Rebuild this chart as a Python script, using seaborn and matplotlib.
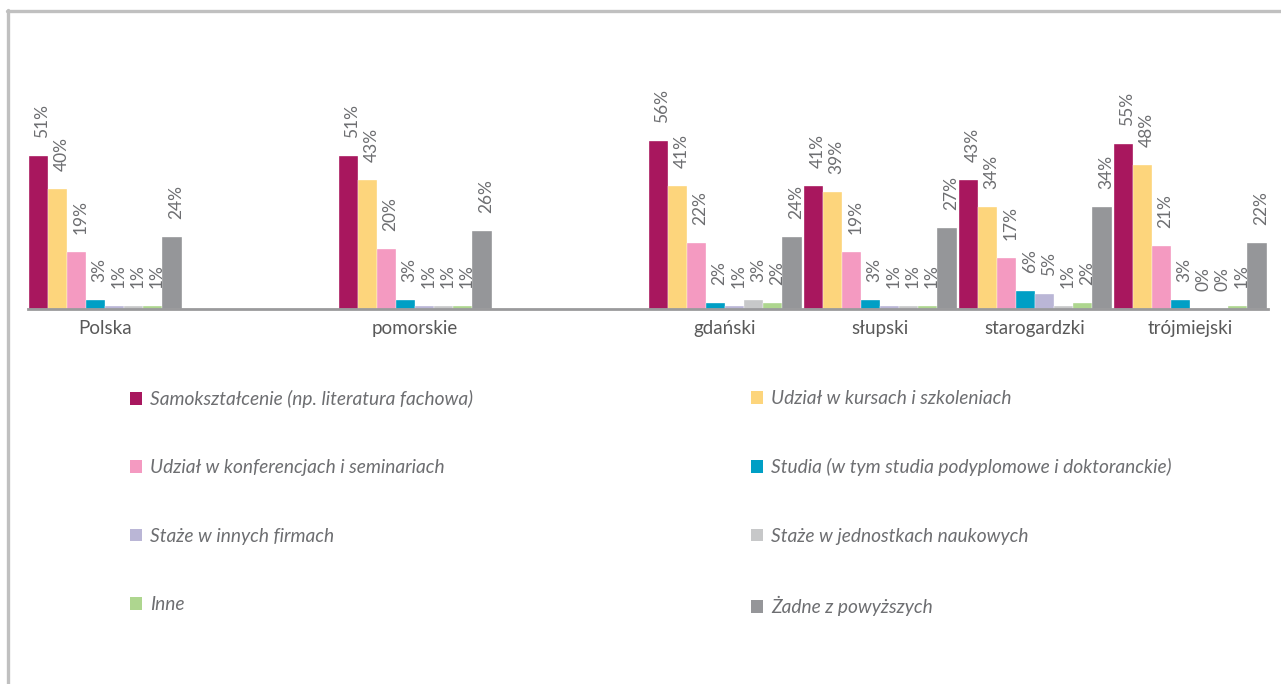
"""Bar chart: forms of professional development by region (percent of answers)."""

import matplotlib

matplotlib.use("Agg")
import matplotlib.pyplot as plt
import pandas as pd
import seaborn as sns
from matplotlib.lines import Line2D
from matplotlib.patches import Patch

# categories on the x axis; the empty slots keep the gaps between groups
slots = ["Polska", "gap1", "pomorskie", "gap2", "gdański", "słupski", "starogardzki", "trójmiejski"]
slot_labels = ["Polska", "", "pomorskie", "", "gdański", "słupski", "starogardzki", "trójmiejski"]
regions = ["Polska", "pomorskie", "gdański", "słupski", "starogardzki", "trójmiejski"]

series = [
    "Samokształcenie (np. literatura fachowa)",
    "Udział w kursach i szkoleniach",
    "Udział w konferencjach i seminariach",
    "Studia (w tym studia podyplomowe i doktoranckie)",
    "Staże w innych firmach",
    "Staże w jednostkach naukowych",
    "Inne",
    "Żadne z powyższych",
]

samoksztalcenie = [51, 51, 56, 41, 43, 55]
kursy = [40, 43, 41, 39, 34, 48]
konferencje = [19, 20, 22, 19, 17, 21]
studia = [3, 3, 2, 3, 6, 3]
staze_firmy = [1, 1, 1, 1, 5, 0]
staze_naukowe = [1, 1, 3, 1, 1, 0]
inne = [1, 1, 2, 1, 2, 1]
zadne = [24, 26, 24, 27, 34, 22]

colors = ["#A8175E", "#FDD57C", "#F49AC1", "#009FC5", "#BAB6D6", "#C7C8C9", "#AED68F", "#959699"]
text_grey = "#6D6E71"

values = [samoksztalcenie, kursy, konferencje, studia, staze_firmy, staze_naukowe, inne, zadne]
rows = []
for name, vals in zip(series, values):
    for region, v in zip(regions, vals):
        rows.append({"region": region, "series": name, "value": v})
df = pd.DataFrame(rows)

sns.set_style("white")
plt.rcParams["font.family"] = ["Lato", "DejaVu Sans"]

fig = plt.figure(figsize=(12.81, 6.84), dpi=100)
ax = fig.add_axes([0.0215, 0.548, 0.968, 0.263])

sns.barplot(data=df, x="region", y="value", hue="series", order=slots, hue_order=series,
            palette=colors, width=0.987, saturation=1, edgecolor="white", linewidth=0.25,
            legend=False, ax=ax)

for container in ax.containers:
    for bar in container:
        h = bar.get_height()
        ax.annotate(f"{h:.0f}%", (bar.get_x() + bar.get_width() / 2, h),
                    xytext=(3, 13), textcoords="offset points", rotation=90,
                    ha="center", va="bottom", fontsize=12.5, color=text_grey)

ax.set_xlim(-0.5, len(slots) - 0.5)
ax.set_ylim(0, 60)
ax.set_xticks(range(len(slots)), labels=slot_labels)
ax.tick_params(axis="x", length=0, pad=8, labelsize=13.5, labelcolor="#595959")
ax.set_yticks([])
ax.set_xlabel("")
ax.set_ylabel("")
for side in ["top", "right", "left"]:
    ax.spines[side].set_visible(False)
ax.spines["bottom"].set_color("#9A9A9C")
ax.spines["bottom"].set_linewidth(2)

# legend in two columns, filled row by row
handles = [Patch(facecolor=c, edgecolor="none") for c in colors]
leg_kw = dict(frameon=False, loc="upper left", handlelength=0.65, handleheight=0.65,
              handletextpad=0.4, labelspacing=2.68, borderpad=0, borderaxespad=0,
              prop={"style": "italic", "size": 13.8}, labelcolor=text_grey)
fig.legend(handles[0::2], series[0::2], bbox_to_anchor=(0.1015, 1 - 390 / 684), **leg_kw)
fig.legend(handles[1::2], series[1::2], bbox_to_anchor=(0.586, 1 - 390 / 684), **leg_kw)

# light grey frame at the top and left edge
fig.add_artist(Line2D([6.5 / 1281, 1], [1 - 11 / 684, 1 - 11 / 684], color="#C0C0C0", lw=2.4))
fig.add_artist(Line2D([7.5 / 1281, 7.5 / 1281], [0, 1 - 10 / 684], color="#C0C0C0", lw=2.4))

fig.savefig("out.png", dpi=100)
plt.close(fig)
